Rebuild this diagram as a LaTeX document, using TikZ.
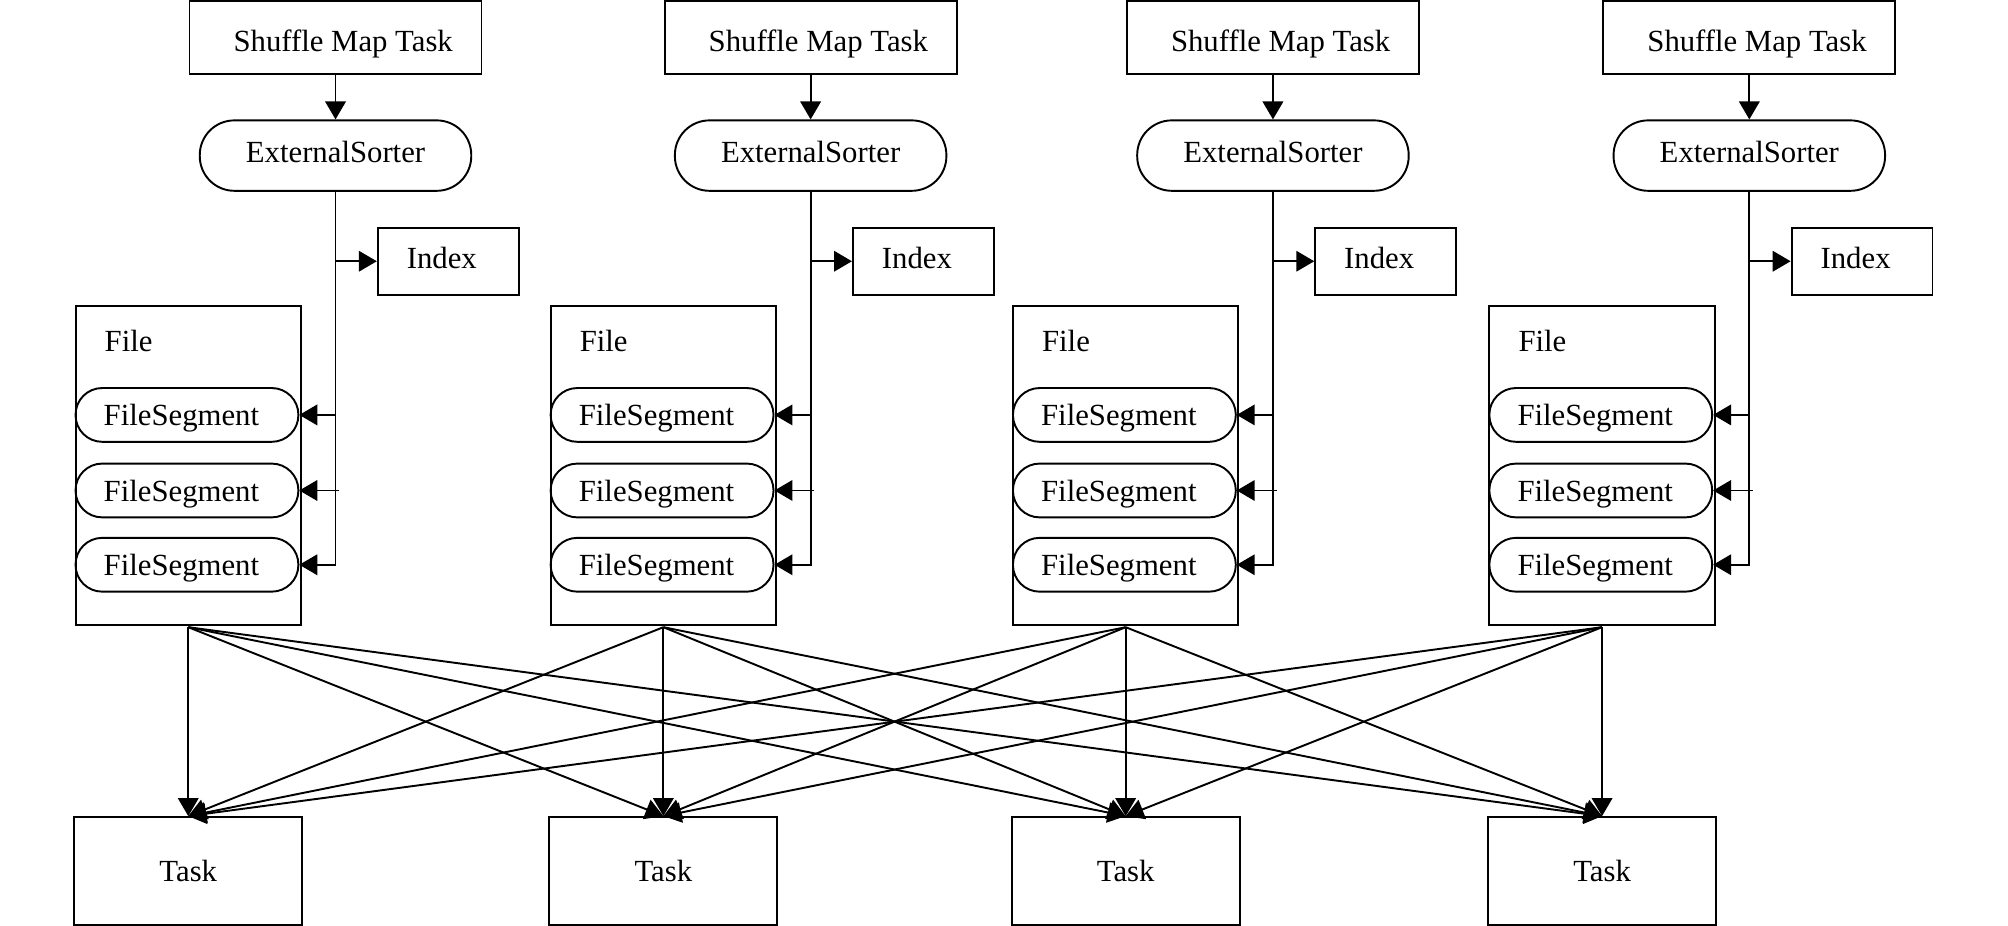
\documentclass[tikz,border=0pt]{standalone}
\usepackage{fontspec}
\setmainfont{Liberation Serif}
\usetikzlibrary{arrows.meta,calc}
\begin{document}
\begin{tikzpicture}[x=0.5pt,y=-0.5pt,
  line width=0.75pt,
  font=\fontsize{12}{14}\selectfont,
  box/.style={draw, rectangle, inner sep=0pt},
  mapbox/.style={box, minimum width=114pt, minimum height=28.5pt, text height=10.9pt, text depth=0pt},
  sorter/.style={draw, rounded corners=13.5pt, minimum width=106pt, minimum height=27.5pt, inner sep=0pt, text height=5.5pt, text depth=0pt},
  idxbox/.style={box, minimum width=55pt, minimum height=26pt, text height=5.5pt, text depth=0pt},
  filebox/.style={box, minimum width=88pt, minimum height=124.5pt},
  segbox/.style={draw, rounded corners=10.4pt, minimum width=87pt, minimum height=21pt, inner xsep=11pt, inner ysep=0pt, text width=65pt, align=left, text height=8.5pt, text depth=0pt},
  taskbox/.style={box, minimum width=89pt, minimum height=42pt},
  lbl/.style={anchor=west, inner sep=0pt},
  arr/.style={-{Triangle[length=7pt,width=8pt]}},
]
\useasboundingbox (0,0) rectangle (1568,723);
\foreach \i/\c in {1/262,2/633,3/994,4/1366} {
  \node[mapbox] (map\i) at (\c,29.5) {\hspace*{6pt}Shuffle Map Task};
  \node[sorter] (es\i) at (\c,121.5) {ExternalSorter};
  \node[idxbox] (idx\i) at (\c+88,204) {Index\hspace*{5pt}};
  \node[filebox] (file\i) at (\c-115,363.5) {};
  \node[lbl] (flab\i) at (\c-181,266) {File};
  \node[segbox] (seg\i-1) at (\c-116,324) {FileSegment};
  \node[segbox] (seg\i-2) at (\c-116,383) {FileSegment};
  \node[segbox] (seg\i-3) at (\c-116,441) {FileSegment};
  \node[taskbox] (task\i) at (\c-115,680) {Task};
  % connectors
  \draw[arr] (map\i.south) -- (es\i.north);
  \draw[arr] (es\i.south) |- (seg\i-3.east);
  \coordinate (vi\i) at (es\i.south |- idx\i.west);
  \draw[arr] (vi\i) -- (idx\i.west);
  \coordinate (va\i) at (es\i.south |- seg\i-1.east);
  \draw[arr] (va\i) -- (seg\i-1.east);
  \coordinate (vb\i) at ($(es\i.south |- seg\i-2.east)+(3,0)$);
  \draw[arr] (vb\i) -- (seg\i-2.east);
}
\foreach \i in {1,...,4} {
  \coordinate (fs\i) at ($(file\i.south)+(0,1)$);
  \foreach \j in {1,...,4} {
    \draw[arr] (fs\i) -- (task\j.north);
  }
}
\end{tikzpicture}
\end{document}
